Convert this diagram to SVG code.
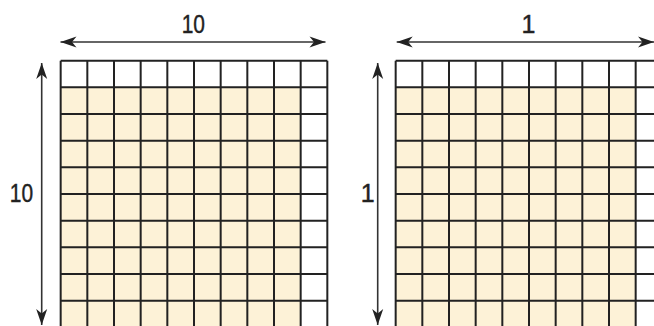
<svg xmlns="http://www.w3.org/2000/svg" width="654" height="326" viewBox="0 0 654 326">
<style>
.fill{fill:#FDF2D7;stroke:none}
.bg{fill:#ffffff;stroke:none}
.grid{fill:none;stroke:#222;stroke-width:2}
.arrow{fill:none;stroke:#333;stroke-width:1.6;marker-start:url(#ah);marker-end:url(#ah)}
</style>
<defs>
<marker id="ah" markerUnits="userSpaceOnUse" markerWidth="20" markerHeight="14" viewBox="-17 -7 20 14" refX="0" refY="0" orient="auto-start-reverse">
<path d="M0,0 L-16,-5.5 L-11.5,0 L-16,5.5 Z" fill="#222"/>
</marker>
</defs>
<rect width="654" height="326" fill="#ffffff"/>
<g id="grid-left">
<rect class="bg" x="60.67" y="60.67" width="266.67" height="266.67"/>
<rect class="fill" x="60.67" y="87.33" width="240" height="240"/>
<path class="grid" d="M60.67,60.67V327.33M87.33,60.67V327.33M114,60.67V327.33M140.67,60.67V327.33M167.33,60.67V327.33M194,60.67V327.33M220.67,60.67V327.33M247.33,60.67V327.33M274,60.67V327.33M300.67,60.67V327.33M327.33,60.67V327.33
M60.67,60.67H327.33M60.67,87.33H327.33M60.67,114H327.33M60.67,140.67H327.33M60.67,167.33H327.33M60.67,194H327.33M60.67,220.67H327.33M60.67,247.33H327.33M60.67,274H327.33M60.67,300.67H327.33M60.67,327.33H327.33"/>
</g>
<g id="grid-right">
<rect class="bg" x="395.67" y="60.67" width="266.67" height="266.67"/>
<rect class="fill" x="395.67" y="87.33" width="240" height="240"/>
<path class="grid" d="M395.67,60.67V327.33M422.33,60.67V327.33M449,60.67V327.33M475.67,60.67V327.33M502.33,60.67V327.33M529,60.67V327.33M555.67,60.67V327.33M582.33,60.67V327.33M609,60.67V327.33M635.67,60.67V327.33M662.33,60.67V327.33
M395.67,60.67H662.33M395.67,87.33H662.33M395.67,114H662.33M395.67,140.67H662.33M395.67,167.33H662.33M395.67,194H662.33M395.67,220.67H662.33M395.67,247.33H662.33M395.67,274H662.33M395.67,300.67H662.33M395.67,327.33H662.33"/>
</g>
<g id="connectors">
<line class="arrow" x1="60.5" y1="42" x2="325.5" y2="42"/>
<line class="arrow" x1="41.7" y1="63" x2="41.7" y2="325"/>
<line class="arrow" x1="396.7" y1="42" x2="654" y2="42"/>
<line class="arrow" x1="377.7" y1="63" x2="377.7" y2="325"/>
</g>
<g id="labels" font-family="'Liberation Sans', Arial, sans-serif" font-size="25" fill="#222" stroke="#222" stroke-width="0.4" text-anchor="middle">
<text x="193.3" y="33.3" textLength="23.3" lengthAdjust="spacingAndGlyphs">10</text>
<text x="21.5" y="201.7" textLength="23.3" lengthAdjust="spacingAndGlyphs">10</text>
<text x="528.4" y="33.3">1</text>
<text x="367.6" y="201.7">1</text>
</g>
</svg>
